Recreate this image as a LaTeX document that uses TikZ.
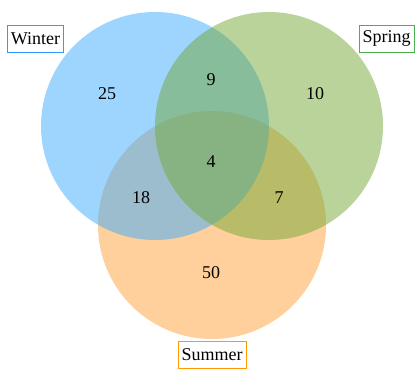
\documentclass[tikz,border=0pt]{standalone}
\usepackage{fontspec}
\setmainfont{Liberation Serif}
\usepackage{xcolor}
\usetikzlibrary{calc}
\definecolor{winter}{HTML}{3BABFF}
\definecolor{spring}{HTML}{73A737}
\definecolor{summer}{HTML}{FFA137}
\definecolor{winterline}{HTML}{3399FF}
\definecolor{springline}{HTML}{4CAF50}
\definecolor{summerline}{HTML}{FF9900}
\tikzset{
  set/.style={fill opacity=0.5, draw=none},
  tag/.style={draw, line width=0.9pt, fill=white, inner xsep=3.5pt, minimum height=27pt,
    font=\fontsize{18}{20}\selectfont},
  num/.style={font=\fontsize{18}{20}\selectfont, text=black},
}

\begin{document}
\begin{tikzpicture}[x=1pt, y=-1pt]
  \useasboundingbox (0,0) rectangle (415,369);
  \def\r{114}
  \coordinate (W) at (155,126);
  \coordinate (Sp) at (269,126);
  \coordinate (Su) at (212,225);

  \fill[set, summer] (Su) circle (\r);
  \fill[set, winter] (W) circle (\r);
  \fill[set, spring] (Sp) circle (\r);

  \node[num] (nW) at (107,94) {25};
  \node[num] (nWSp) at (211,80) {9};
  \node[num] (nSp) at (315,94) {10};
  \node[num] (nAll) at (211,162) {4};
  \node[num] (nWSu) at (141,198) {18};
  \node[num] (nSpSu) at (279,198) {7};
  \node[num] (nSu) at (211,273) {50};

  \node[tag, draw=winterline] (lW) at (35.5,38.5) {Winter};
  \node[tag, draw=springline] (lSp) at (386.5,38.5) {Spring};
  \node[tag, draw=summerline] (lSu) at (212,355) {Summer};
\end{tikzpicture}
\end{document}
